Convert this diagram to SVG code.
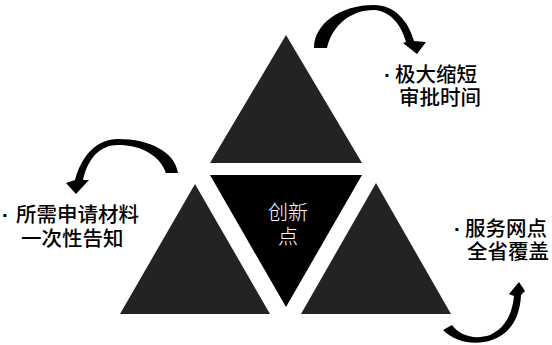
<svg xmlns="http://www.w3.org/2000/svg" width="552" height="345" viewBox="0 0 552 345">
<style>
.tri{fill:#232323}
.core{fill:#000}
.arrow{fill:#000}
.lbl{font-family:"Noto Sans CJK SC","Noto Sans",sans-serif;font-size:20.5px;font-weight:500;fill:#000}
.dot{font-family:"Liberation Sans",sans-serif;font-weight:700}
.ctr{font-family:"Noto Sans CJK SC","Noto Sans",sans-serif;font-size:20px;font-weight:300;fill:#fff;text-anchor:middle}
</style>
<rect width="552" height="345" fill="#fff"/>
<g id="top-triangle"><polygon class="tri" points="286,35 210,163 362,163"/></g>
<g id="left-triangle"><polygon class="tri" points="195,184 120,314 270,314"/></g>
<g id="right-triangle"><polygon class="tri" points="376,183 301,314 451,314"/></g>
<g id="center">
<polygon class="core" points="210,175 362,175 286,307"/>
<text class="ctr" x="288" y="220">创新</text>
<text class="ctr" x="288" y="244">点</text>
</g>
<g id="connectors">
<path class="arrow" d="M314,48 C314,24 340,5 374,5 C394,5 408,20 414,41 L426,42 L417,54 L403,43 L406,42 C401,24 390,11 374,10 C350,10 332,26 327,48 Z"/>
<path class="arrow" d="M178,173 C175,152 150,139 118,139 C98,139 82,154 75,180 L66,183 L76,194 L89,180 L83,180 C88,158 100,145 118,145 C140,145 160,155 166,173 Z"/>
<path class="arrow" d="M443,330 C455,342 475,346 492,340 C510,334 520,318 521,295 L525,291 L519,282 L509,294 L514,296 C512,315 505,328 490,335 C475,340 460,336 452,325 Z"/>
</g>
<g id="label-top">
<text class="lbl" x="384" y="82"><tspan class="dot">·</tspan><tspan x="395">极大缩短</tspan></text>
<text class="lbl" x="399" y="105">审批时间</text>
</g>
<g id="label-left">
<text class="lbl" x="2" y="222"><tspan class="dot">·</tspan><tspan x="16">所需申请材料</tspan></text>
<text class="lbl" x="21" y="246">一次性告知</text>
</g>
<g id="label-right">
<text class="lbl" x="454" y="236"><tspan class="dot">·</tspan><tspan x="465">服务网点</tspan></text>
<text class="lbl" x="467" y="259">全省覆盖</text>
</g>
</svg>
